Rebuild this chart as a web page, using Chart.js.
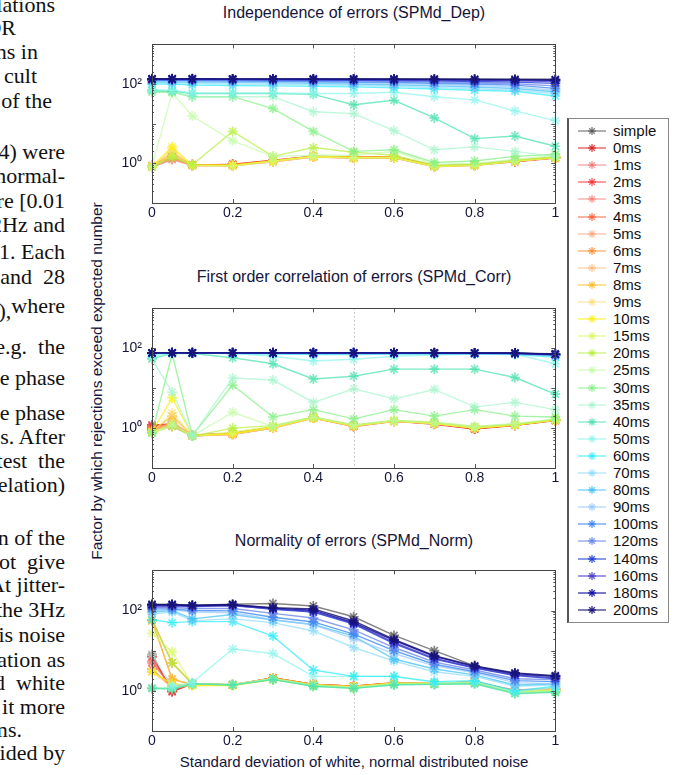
<!DOCTYPE html>
<html>
<head>
<meta charset="utf-8">
<script src="https://cdn.jsdelivr.net/npm/chart.js@4.4.1/dist/chart.umd.min.js"></script>
<style>
body { margin: 0; width: 678px; height: 775px; overflow: hidden; position: relative; background: #fff; font-family: "Liberation Sans", Arial, sans-serif; }
.paper { position: absolute; font-family: "Liberation Serif", "Times New Roman", serif; font-size: 22px; line-height: 24px; white-space: nowrap; color: #111; text-align: right; }
.title { position: absolute; width: 404px; left: 152px; text-align: center; font-size: 16px; color: #15153a; white-space: nowrap; }
canvas { position: absolute; }
#ylabel { position: absolute; left: 97px; top: 381px; transform: translate(-50%, -50%) rotate(-90deg); font-size: 15.5px; color: #15153a; white-space: nowrap; }
#xlabel { position: absolute; left: 152px; width: 404px; top: 753px; text-align: center; font-size: 15px; color: #15153a; white-space: nowrap; }
#legend { position: absolute; left: 567px; top: 118px; width: 99px; height: 503px; border: 1px solid #888; border-left: 2px solid #555; background: #fff; }
.item { position: absolute; left: 0; height: 16px; font-size: 15px; line-height: 16px; color: #111; white-space: nowrap; }
.item svg { position: absolute; left: 9px; top: 2px; }
.item span { position: absolute; left: 44px; top: 0; }
</style>
</head>
<body>
<div id="paper"></div>

<div class="title" style="top:4px">Independence of errors (SPMd_Dep)</div>
<div class="title" style="top:268px">First order correlation of errors (SPMd_Corr)</div>
<div class="title" style="top:532px">Normality of errors (SPMd_Norm)</div>
<div id="ylabel">Factor by which rejections exceed expected number</div>
<div id="xlabel">Standard deviation of white, normal distributed noise</div>

<canvas id="dep" width="462" height="200" style="left:100px;top:26px"></canvas>
<canvas id="corr" width="462" height="201" style="left:100px;top:290px"></canvas>
<canvas id="norm" width="462" height="202" style="left:100px;top:552px"></canvas>

<div id="legend"></div>

<script>
const xValues = [0, 0.05, 0.1, 0.2, 0.3, 0.4, 0.5, 0.6, 0.7, 0.8, 0.9, 1];
const xTicks = [0, 0.2, 0.4, 0.6, 0.8, 1];
const yTicks = [1, 100];

const seriesNames = ['simple', '0ms', '1ms', '2ms', '3ms', '4ms', '5ms', '6ms', '7ms', '8ms', '9ms', '10ms',
  '15ms', '20ms', '25ms', '30ms', '35ms', '40ms', '50ms', '60ms', '70ms', '80ms', '90ms',
  '100ms', '120ms', '140ms', '160ms', '180ms', '200ms'];

const seriesColors = [
  'rgba(90,90,90,0.75)',
  'rgba(215,30,30,0.75)', 'rgba(240,110,110,0.65)', 'rgba(245,40,40,0.7)', 'rgba(245,120,110,0.65)',
  'rgba(245,90,50,0.7)', 'rgba(250,160,120,0.65)', 'rgba(250,140,40,0.7)', 'rgba(250,185,120,0.65)',
  'rgba(250,185,30,0.7)', 'rgba(250,220,120,0.65)', 'rgba(250,240,20,0.75)',
  'rgba(215,250,100,0.7)', 'rgba(180,240,60,0.7)', 'rgba(190,250,160,0.65)', 'rgba(130,240,130,0.7)',
  'rgba(160,245,200,0.65)', 'rgba(70,225,170,0.7)', 'rgba(140,245,235,0.7)', 'rgba(40,235,245,0.7)',
  'rgba(140,220,250,0.7)', 'rgba(60,190,245,0.7)', 'rgba(150,200,250,0.7)',
  'rgba(50,130,240,0.75)', 'rgba(100,130,235,0.75)', 'rgba(30,60,215,0.8)', 'rgba(70,60,200,0.8)',
  'rgba(15,15,165,0.85)', 'rgba(25,20,115,0.85)'
];

// Independence of errors (SPMd_Dep)
const depData = [
  [135,135,135,135,135,135,135,135,134,133,132,130],
  [0.85,1.4,0.92,0.92,1.15,1.5,1.38,1.42,0.85,0.9,1.12,1.38],
  [0.82,1.3,0.9,0.88,1.12,1.48,1.4,1.4,0.83,0.92,1.15,1.4],
  [0.88,1.45,0.9,0.95,1.2,1.52,1.42,1.45,0.88,0.9,1.1,1.36],
  [0.8,1.25,0.88,0.9,1.1,1.45,1.36,1.38,0.84,0.88,1.18,1.42],
  [0.86,1.5,0.92,0.94,1.18,1.5,1.4,1.4,0.86,0.93,1.12,1.4],
  [0.83,1.35,0.87,0.86,1.1,1.46,1.35,1.36,0.82,0.9,1.14,1.38],
  [0.87,1.55,0.93,0.92,1.16,1.52,1.43,1.44,0.87,0.91,1.16,1.43],
  [0.8,1.7,0.88,0.88,1.12,1.47,1.37,1.4,0.84,0.89,1.13,1.37],
  [0.84,1.9,0.9,0.9,1.15,1.5,1.4,1.42,0.86,0.9,1.15,1.4],
  [0.82,2.3,0.89,0.87,1.1,1.45,1.38,1.38,0.83,0.92,1.17,1.39],
  [0.85,2.6,0.9,0.9,1.14,1.48,1.4,1.4,0.85,0.9,1.15,1.41],
  [0.8,1.6,0.88,0.86,1.15,1.5,1.36,1.4,0.83,0.88,1.12,1.42],
  [0.82,1.4,0.92,6.4,1.5,2.5,1.9,1.6,0.9,0.95,1.2,1.45],
  [0.85,60,15.6,3.7,1.5,1.6,1.6,2.0,0.95,1.0,1.25,1.6],
  [62,62,48,48,24,6.4,2.0,2.2,1.05,1.15,1.5,1.7],
  [66,64,48,48,48,20,18,6.7,2.2,2.6,2.0,1.5],
  [69,66,58,58,58,55,30,39,14,4.2,4.9,2.7],
  [72,70,60,60,60,58,58,62,48,40,21,12],
  [100,100,95,92,90,88,85,80,75,70,66,50],
  [108,108,104,100,98,96,92,88,82,76,70,58],
  [115,114,112,110,108,104,100,96,90,84,77,64],
  [120,120,118,115,113,110,107,103,97,92,85,70],
  [125,125,122,120,118,116,113,110,105,100,94,78],
  [128,128,126,125,124,122,120,117,113,108,102,90],
  [130,130,130,129,128,127,125,123,120,116,112,104],
  [132,132,132,131,130,130,129,128,126,123,120,116],
  [134,134,134,133,133,132,132,131,130,128,126,124],
  [136,136,136,135,135,135,134,134,133,132,131,130]
];

// First order correlation of errors (SPMd_Corr)
const corrData = [
  [77,77,77,77,77,77,77,77,77,76,75,73],
  [1.2,1.25,0.66,0.74,1.05,1.85,1.12,1.5,1.25,0.95,1.18,1.55],
  [1.0,1.15,0.64,0.7,1.0,1.8,1.1,1.48,1.3,0.98,1.2,1.6],
  [1.1,1.3,0.67,0.73,1.06,1.85,1.15,1.52,1.28,0.96,1.17,1.58],
  [0.9,1.1,0.63,0.7,1.02,1.78,1.1,1.47,1.3,1.0,1.22,1.6],
  [1.0,1.2,0.66,0.72,1.05,1.82,1.14,1.5,1.3,0.97,1.2,1.58],
  [0.85,1.15,0.64,0.7,1.0,1.78,1.12,1.48,1.32,1.0,1.2,1.62],
  [0.9,1.3,0.66,0.72,1.05,1.8,1.15,1.5,1.3,0.98,1.19,1.6],
  [0.8,1.5,0.64,0.7,1.02,1.76,1.13,1.48,1.3,1.0,1.22,1.62],
  [0.82,2.0,0.65,0.72,1.04,1.8,1.15,1.5,1.32,1.0,1.2,1.6],
  [0.78,2.4,0.64,0.7,1.0,1.78,1.12,1.48,1.3,1.02,1.22,1.62],
  [0.8,5.7,0.65,0.72,1.05,1.8,1.15,1.52,1.32,1.0,1.2,1.6],
  [0.76,1.3,0.64,0.8,1.1,1.85,1.18,1.5,1.32,1.02,1.22,1.62],
  [0.75,1.1,0.63,1.0,1.15,1.9,1.2,1.55,1.4,1.1,1.25,1.65],
  [0.75,1.2,0.64,2.5,1.1,1.9,1.2,1.55,1.4,1.1,1.3,1.7],
  [0.75,72,0.65,12,1.9,2.9,1.7,2.9,2.0,2.9,2.0,1.9],
  [53,8,0.65,18,16,4.4,9.7,5.4,9.3,3.4,4.4,2.9],
  [55,74,74,58,41,17,20,30,30,30,18.5,7.1],
  [62,75,75,74,63,48,53,63,68,72,72,41],
  [72,76,76,74,72,70,70,72,72,72,70,60],
  [74,76,76,75,74,73,72,73,73,73,72,64],
  [75,76,76,75,75,74,74,74,74,74,73,66],
  [75,76,76,76,75,75,75,75,75,74,73,67],
  [76,76,76,76,76,75,75,75,75,75,74,68],
  [76,76,76,76,76,76,76,76,75,75,74,69],
  [76,77,77,76,76,76,76,76,76,75,75,70],
  [77,77,77,77,76,76,76,76,76,76,75,70],
  [77,77,77,77,77,77,77,77,76,76,75,71],
  [77,77,77,77,77,77,77,77,77,76,76,71]
];

// Normality of errors (SPMd_Norm)
const normData = [
  [144,144,135,144,150,130,70,24,10,4.2,2.5,2.3],
  [8,0.95,1.5,1.4,2.1,1.45,1.3,1.55,1.5,1.7,1.0,1.1],
  [5.5,1.2,1.45,1.45,2.0,1.4,1.25,1.5,1.55,1.65,1.05,1.15],
  [7,1.0,1.5,1.4,2.1,1.45,1.3,1.6,1.5,1.7,0.95,1.05],
  [5,1.3,1.4,1.45,2.0,1.4,1.25,1.55,1.55,1.65,1.0,1.1],
  [3.5,1.2,1.5,1.4,2.1,1.45,1.3,1.5,1.5,1.7,1.0,1.05],
  [59,1.9,1.45,1.45,2.0,1.4,1.25,1.55,1.55,1.65,1.0,1.1],
  [59,5,1.5,1.4,2.1,1.45,1.3,1.6,1.5,1.7,0.95,1.05],
  [3,1.4,1.45,1.45,2.0,1.4,1.25,1.5,1.55,1.6,1.0,1.1],
  [55,2,1.4,1.4,2.1,1.45,1.3,1.55,1.5,1.7,0.95,1.0],
  [3,1.2,1.35,1.4,1.9,1.4,1.25,1.5,1.55,1.6,1.0,1.05],
  [3,1.5,1.35,1.35,1.9,1.35,1.2,1.5,1.5,1.6,0.95,1.0],
  [27,9.3,1.45,1.45,2.0,1.4,1.25,1.55,1.55,1.65,0.95,1.05],
  [59,5,1.5,1.4,1.95,1.4,1.2,1.5,1.5,1.6,0.9,1.0],
  [1.15,1.2,1.5,1.45,2.0,1.35,1.2,1.45,1.5,1.55,0.9,1.0],
  [1.15,1.15,1.5,1.4,1.95,1.3,1.15,1.45,1.45,1.55,0.88,0.95],
  [1.2,1.2,1.45,1.45,2.0,1.35,1.2,1.45,1.45,1.5,0.88,0.95],
  [1.15,1.1,1.5,1.4,1.9,1.3,1.15,1.4,1.45,1.5,0.85,0.92],
  [8,1.3,1.6,11,8.5,2.3,2.3,2.3,1.6,1.7,0.95,1.2],
  [59,50,53,53,23,3.3,2.3,2.3,1.7,1.8,1.0,1.3],
  [82,92,56,62,50,31,12,5.5,3.0,2.3,1.3,1.4],
  [92,100,62,80,58,45,23,6.2,3.5,2.5,1.4,1.5],
  [100,105,92,88,60,44,20,8.5,4.2,2.8,1.6,1.5],
  [110,110,100,98,68,52,26,10,4.6,3.0,1.8,1.7],
  [118,118,112,112,85,65,33,12,5.2,3.3,2.0,1.9],
  [140,138,130,136,108,92,46,15,6.2,3.7,2.4,2.0],
  [125,128,125,132,110,95,48,16,6.5,3.8,2.5,2.1],
  [138,140,132,140,115,102,50,18,7.2,4.0,2.7,2.3],
  [140,140,135,140,118,110,55,19,7.5,4.2,2.8,2.4]
];

// cropped page text on the left
const paperLines = [
  [5, 'lations', 55], [28, 'OR', 16], [52, 'ns in', 38], [76, 'cult', 37], [101, 'of the', 52],
  [152, '4) were', 65], [176, 'normal-', 65], [201, 're [0.01', 65], [225, '2Hz and', 65],
  [252, '1. Each', 65], [277, 'and  28', 65], [311, '),<sup>where</sup>', 65], [347, 'e.g.  the', 65],
  [378, 'e phase', 65], [413, 'e phase', 65], [437, 's. After', 65], [461, 'test  the', 65],
  [485, 'elation)', 65], [538, 'n of the', 65], [562, 'not  give', 65], [585, 'At jitter-', 65],
  [610, 'the 3Hz', 65], [635, 'is noise', 65], [660, 'ation as', 65], [683, 'd  white', 65],
  [707, 'it more', 65], [730, 'ms.', 22], [753, 'ided by', 65]
];

const paper = document.getElementById('paper');
paperLines.forEach(([y, t, r]) => {
  const d = document.createElement('div');
  d.className = 'paper';
  d.style.top = (y - 12) + 'px';
  d.style.right = (678 - r) + 'px';
  d.innerHTML = t.replace(/  /g, '&nbsp; ').replace('<sup>', '<span style="position:relative;top:-5px">').replace('</sup>', '</span>');
  paper.appendChild(d);
});

const tickFont = {family: '"Liberation Sans", Arial, sans-serif', size: 14};

const framePlugin = {
  id: 'frame',
  beforeDatasetsDraw(chart) {
    const {ctx, chartArea: a, scales: {x}} = chart;
    const px = x.getPixelForValue(0.5);
    ctx.save();
    ctx.strokeStyle = '#999';
    ctx.lineWidth = 1;
    ctx.setLineDash([1, 3]);
    ctx.beginPath();
    ctx.moveTo(Math.round(px) + 0.5, a.top);
    ctx.lineTo(Math.round(px) + 0.5, a.bottom);
    ctx.stroke();
    ctx.restore();
  },
  afterDatasetsDraw(chart) {
    const {ctx, chartArea: a, scales: {x, y}} = chart;
    ctx.save();
    ctx.strokeStyle = '#555';
    ctx.lineWidth = 1;
    ctx.beginPath();
    xTicks.forEach(v => {
      const p = Math.round(x.getPixelForValue(v)) + 0.5;
      ctx.moveTo(p, a.bottom); ctx.lineTo(p, a.bottom - 4);
      ctx.moveTo(p, a.top); ctx.lineTo(p, a.top + 4);
    });
    [0.1, 1, 10, 100].forEach(dec => {
      for (let m = 1; m < 10; m++) {
        const p = Math.round(y.getPixelForValue(dec * m)) + 0.5;
        const len = m === 1 ? 4 : 2;
        ctx.moveTo(a.left, p); ctx.lineTo(a.left + len, p);
        ctx.moveTo(a.right, p); ctx.lineTo(a.right - len, p);
      }
    });
    ctx.stroke();
    ctx.strokeStyle = '#444';
    ctx.strokeRect(Math.round(a.left) + 0.5, Math.round(a.top) + 0.5, Math.round(a.right - a.left), Math.round(a.bottom - a.top));
    ctx.restore();
  }
};

function makeChart(id, rows) {
  const datasets = rows.map((vals, i) => ({
    label: seriesNames[i],
    data: vals.map((v, j) => ({x: xValues[j], y: v})),
    borderColor: seriesColors[i],
    backgroundColor: seriesColors[i],
    borderWidth: 1.4,
    pointStyle: 'star',
    pointRadius: 5,
    pointBorderWidth: 1.7,
    clip: false,
    order: -i
  }));
  return new Chart(document.getElementById(id), {
    type: 'line',
    data: {datasets},
    options: {
      responsive: false,
      animation: false,
      events: [],
      layout: {padding: {top: 4, right: 6, left: 0, bottom: 0}},
      plugins: {legend: {display: false}, tooltip: {enabled: false}},
      scales: {
        x: {
          type: 'linear', min: 0, max: 1,
          afterBuildTicks: s => { s.ticks = xTicks.map(v => ({value: v})); },
          afterFit: s => { s.height = 23; },
          grid: {display: false, drawTicks: false},
          border: {display: false},
          ticks: {padding: 2, font: tickFont, color: '#15153a', maxRotation: 0, callback: v => String(v)}
        },
        y: {
          type: 'logarithmic', min: 0.1, max: 1000,
          afterBuildTicks: s => { s.ticks = yTicks.map(v => ({value: v})); },
          afterFit: s => { s.width = 52; },
          grid: {display: false, drawTicks: false},
          border: {display: false},
          ticks: {padding: 10, font: tickFont, color: '#15153a', callback: v => v === 1 ? '10\u2070' : '10\u00b2'}
        }
      }
    },
    plugins: [framePlugin]
  });
}

makeChart('dep', depData);
makeChart('corr', corrData);
makeChart('norm', normData);

// legend
const legend = document.getElementById('legend');
seriesNames.forEach((name, i) => {
  const c = seriesColors[i];
  const row = document.createElement('div');
  row.className = 'item';
  row.style.top = (130 - 118 - 8 + i * 17.1) + 'px';
  row.innerHTML =
    '<svg width="28" height="12" viewBox="0 0 28 12">' +
    '<line x1="0" y1="6" x2="28" y2="6" stroke="' + c + '" stroke-width="1.3"/>' +
    '<g stroke="' + c + '" stroke-width="1.4">' +
    '<line x1="10" y1="6" x2="18" y2="6"/><line x1="14" y1="2" x2="14" y2="10"/>' +
    '<line x1="11.2" y1="3.2" x2="16.8" y2="8.8"/><line x1="11.2" y1="8.8" x2="16.8" y2="3.2"/></g></svg>' +
    '<span>' + name + '</span>';
  legend.appendChild(row);
});
</script>
</body>
</html>
